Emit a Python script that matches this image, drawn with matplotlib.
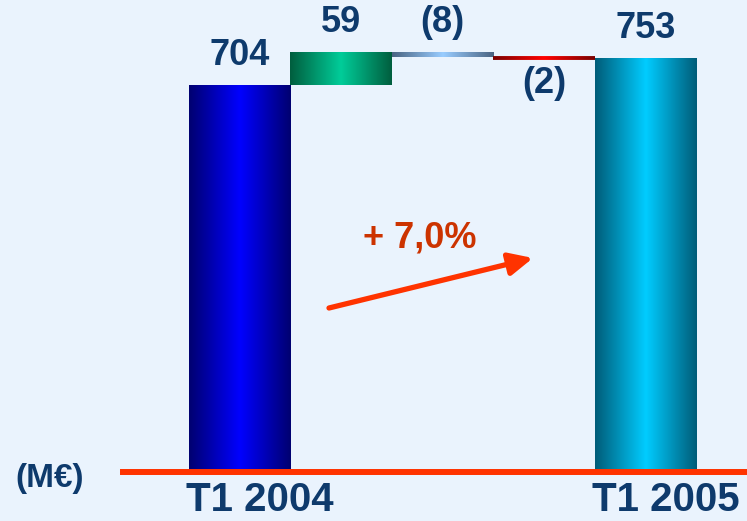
import numpy as np
import matplotlib.pyplot as plt
from matplotlib.colors import LinearSegmentedColormap
from matplotlib.collections import LineCollection

plt.rcParams['font.family'] = ['Liberation Sans', 'DejaVu Sans']

# datos del grafico (M€)
etiquetas = ['T1 2004', '', '', '', 'T1 2005']
variaciones = [704, 59, -8, -2, 753]
textos = ['704', '59', '(8)', '(2)', '753']
es_total = [True, False, False, False, True]
crecimiento = '+ 7,0%'

# colores del degradado: (borde, centro)
degradados = [('#000070', '#0000FF'),
              ('#005E3E', '#00CC99'),
              ('#4A6482', '#99CCFF'),
              ('#7A0000', '#FF0000'),
              ('#005C78', '#00CCFF')]

fondo = '#EAF3FD'
azul_texto = '#0E3A6C'
rojo = '#FF3300'

# calcular bases del waterfall
bases = []
acumulado = 0
for v, tot in zip(variaciones, es_total):
    if tot:
        bases.append(0)
        acumulado = v
    else:
        bases.append(acumulado)
        acumulado += v

fig = plt.figure(figsize=(7.47, 5.21), dpi=100, facecolor=fondo)
ax = fig.add_axes([0, 0, 1, 1])
ax.set_facecolor(fondo)
ax.axis('off')

x = np.arange(len(variaciones))
barras = ax.bar(x, variaciones, bottom=bases, width=1.0, color='none', linewidth=0)

perfil = np.concatenate([np.linspace(0, 1, 128), np.linspace(1, 0, 128)])
grad = perfil[np.newaxis, :]
for rect, (borde, centro), v in zip(barras, degradados, variaciones):
    x0 = rect.get_x()
    x1 = x0 + rect.get_width()
    y0 = rect.get_y()
    y1 = y0 + rect.get_height()
    cmap = LinearSegmentedColormap.from_list('g', [borde, centro])
    if abs(v) < 5:
        # barra muy fina: linea con degradado
        xs = np.linspace(x0, x1, len(perfil) + 1)
        ym = (y0 + y1) / 2
        segs = [[(xs[k], ym), (xs[k + 1], ym)] for k in range(len(perfil))]
        lc = LineCollection(segs, colors=cmap(perfil), linewidths=2.8,
                            capstyle='butt', zorder=2)
        ax.add_collection(lc)
    else:
        ax.imshow(grad, extent=(x0, x1, min(y0, y1), max(y0, y1)), aspect='auto',
                  cmap=cmap, interpolation='bicubic', zorder=2)

# etiquetas de valores
for i, (rect, t, v) in enumerate(zip(barras, textos, variaciones)):
    cima = max(rect.get_y(), rect.get_y() + rect.get_height())
    fondo_barra = min(rect.get_y(), rect.get_y() + rect.get_height())
    if v >= 0 or i == 2:
        ax.annotate(t, (rect.get_x() + rect.get_width() / 2, cima), xytext=(0, 9),
                    textcoords='offset points', ha='center', va='bottom',
                    fontsize=26, fontweight='bold', color=azul_texto)
    else:
        ax.annotate(t, (rect.get_x() + rect.get_width() / 2, fondo_barra), xytext=(0, -6),
                    textcoords='offset points', ha='center', va='top',
                    fontsize=26, fontweight='bold', color=azul_texto)

# eje rojo
ax.axhline(0, xmin=123 / 747, xmax=1, color=rojo, lw=4.3, zorder=3)

# etiquetas de periodo
for rect, lab in zip(barras, etiquetas):
    if lab:
        ax.text(rect.get_x() - 0.03, 0.003, lab, transform=ax.get_xaxis_transform(),
                ha='left', va='bottom', fontsize=29, fontweight='bold', color=azul_texto)

ax.text(50 / 747, 1 - 478 / 521, '(M€)', transform=ax.transAxes, ha='center',
        va='center', fontsize=24, fontweight='bold', color=azul_texto)

# flecha de crecimiento
ax.annotate('', xy=(533 / 747, 1 - 258 / 521), xytext=(329 / 747, 1 - 308 / 521),
            xycoords='axes fraction', textcoords='axes fraction',
            arrowprops=dict(arrowstyle='-|>,head_length=0.95,head_width=0.45',
                            mutation_scale=15, lw=3.8, color=rojo, shrinkA=0, shrinkB=0))
ax.text(420 / 747, 1 - 238 / 521, crecimiento, transform=ax.transAxes, ha='center',
        va='center', fontsize=26, fontweight='bold', color='#CC3300')

ax.set_xlim(-2.36, 5.0)
ax.set_ylim(-89.1, 858.7)

fig.savefig('out.png', dpi=100, facecolor=fondo)
